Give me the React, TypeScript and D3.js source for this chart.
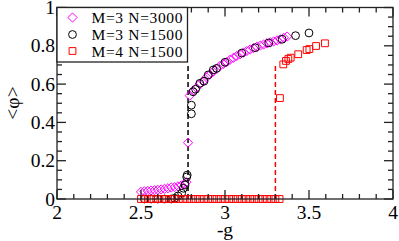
import { useEffect, useRef } from 'react'
import { select, scaleLinear, range, symbol, symbolSquare } from 'd3'

// M=3 N=3000 (magenta diamonds)
const gM3N3000 = [
  2.5, 2.52, 2.54, 2.56, 2.58, 2.6, 2.62, 2.64, 2.66, 2.68, 2.7, 2.72, 2.74, 2.76, 2.77, 2.78,
  2.79, 2.81, 2.83, 2.85, 2.87, 2.89, 2.91, 2.93, 2.95, 2.97, 2.99, 3.01, 3.03, 3.05, 3.07,
  3.09, 3.11, 3.13, 3.15, 3.17, 3.19, 3.21, 3.23, 3.25, 3.27, 3.29, 3.31, 3.33, 3.35, 3.37,
]
const phiM3N3000 = [
  0.037, 0.04, 0.042, 0.044, 0.046, 0.048, 0.05, 0.053, 0.056, 0.06, 0.062, 0.066, 0.071, 0.08,
  0.088, 0.294, 0.54, 0.565, 0.58, 0.6, 0.615, 0.635, 0.65, 0.665, 0.68, 0.695, 0.705, 0.715,
  0.727, 0.737, 0.747, 0.756, 0.765, 0.773, 0.781, 0.788, 0.795, 0.801, 0.807, 0.813, 0.818,
  0.823, 0.828, 0.834, 0.842, 0.848,
]

// M=3 N=1500 (black circles)
const gM3N1500 = [
  2.52, 2.56, 2.6, 2.64, 2.68, 2.7, 2.72, 2.742, 2.752, 2.762, 2.772, 2.775, 2.8, 2.8, 2.81,
  2.825, 2.85, 2.875, 2.9, 2.93, 2.95, 3.0, 3.1, 3.18, 3.26, 3.34, 3.42, 3.5,
]
const phiM3N1500 = [
  0.0, 0.0, 0.0, 0.0, 0.0, 0.004, 0.016, 0.03, 0.056, 0.073, 0.115, 0.125, 0.445, 0.49, 0.56,
  0.573, 0.604, 0.615, 0.648, 0.674, 0.682, 0.714, 0.762, 0.79, 0.815, 0.834, 0.853, 0.867,
]

// M=4 N=1500 (red squares)
const gM4N1500 = [
  2.5, 2.525, 2.55, 2.575, 2.6, 2.625, 2.65, 2.675, 2.7, 2.725, 2.75, 2.775, 2.8, 2.825, 2.85,
  2.875, 2.9, 2.925, 2.95, 2.975, 3.0, 3.025, 3.05, 3.075, 3.1, 3.125, 3.15, 3.175, 3.2, 3.225,
  3.25, 3.275, 3.3, 3.325, 3.327, 3.347, 3.363, 3.377, 3.391, 3.436, 3.486, 3.502, 3.542, 3.595,
]
const phiM4N1500 = [
  0, 0, 0, 0, 0, 0, 0, 0, 0, 0, 0, 0, 0, 0, 0, 0, 0, 0, 0, 0, 0, 0, 0, 0, 0, 0, 0, 0, 0, 0, 0, 0,
  0, 0, 0.527, 0.703, 0.721, 0.731, 0.738, 0.756, 0.778, 0.783, 0.799, 0.813,
]

// vertical dashed transition lines: [g, top phi]
const transitions = [
  { g: 2.78, top: 0.71, color: '#000000' },
  { g: 3.3, top: 0.7, color: '#ff0000' },
]

const legendLabels = ['M=3 N=3000', 'M=3 N=1500', 'M=4 N=1500']
const xTicks = [2, 2.5, 3, 3.5, 4]
const yTicks = [0, 0.2, 0.4, 0.6, 0.8, 1]

const W = 399
const H = 241
const FONT = '"Liberation Serif", "Times New Roman", serif'

// diamond as a square rotated by 45 degrees
const diamondPath = (r: number) => `M0,${-r}L${r},0L0,${r}L${-r},0Z`

const App = () => {
  const svgRef = useRef(null)

  useEffect(() => {
    const svg = select(svgRef.current)
    svg.selectAll('*').remove()

    const x = scaleLinear().domain([2, 4]).range([57, 393])
    const y = scaleLinear().domain([0, 1]).range([199, 7.5])
    const [x0, x1] = x.range()
    const [y0, y1] = y.range()

    // dashed lines
    transitions.forEach((t) => {
      svg
        .append('line')
        .attr('x1', x(t.g))
        .attr('x2', x(t.g))
        .attr('y1', y(0))
        .attr('y2', y(t.top))
        .attr('stroke', t.color)
        .attr('stroke-width', 1.5)
        .attr('stroke-dasharray', '5,3')
    })

    const square = symbol().type(symbolSquare).size(46)
    const diamond = diamondPath(4.6)

    svg
      .append('g')
      .selectAll('path')
      .data(gM3N3000.map((g, i) => [g, phiM3N3000[i]]))
      .join('path')
      .attr('d', diamond)
      .attr('transform', (d) => `translate(${x(d[0])},${y(d[1])})`)
      .attr('fill', 'none')
      .attr('stroke', '#ff00ff')
      .attr('stroke-width', 1)

    svg
      .append('g')
      .selectAll('circle')
      .data(gM3N1500.map((g, i) => [g, phiM3N1500[i]]))
      .join('circle')
      .attr('cx', (d) => x(d[0]))
      .attr('cy', (d) => y(d[1]))
      .attr('r', 3.9)
      .attr('fill', 'none')
      .attr('stroke', '#000000')
      .attr('stroke-width', 1)

    svg
      .append('g')
      .selectAll('path')
      .data(gM4N1500.map((g, i) => [g, phiM4N1500[i]]))
      .join('path')
      .attr('d', square)
      .attr('transform', (d) => `translate(${x(d[0])},${y(d[1])})`)
      .attr('fill', 'none')
      .attr('stroke', '#ff0000')
      .attr('stroke-width', 1)

    // frame + ticks on all four sides, pointing inward
    const axisG = svg.append('g').attr('stroke', '#222').attr('stroke-width', 1.3)
    axisG
      .append('rect')
      .attr('x', x0)
      .attr('y', y1)
      .attr('width', x1 - x0)
      .attr('height', y0 - y1)
      .attr('fill', 'none')

    const xMinor = range(2, 4.001, 0.1)
    const yMinor = range(0, 1.001, 0.05)
    xMinor.forEach((v) => {
      const major = xTicks.some((t) => Math.abs(t - v) < 1e-6)
      const len = major ? 9 : 5
      axisG.append('line').attr('x1', x(v)).attr('x2', x(v)).attr('y1', y0).attr('y2', y0 - len)
      axisG.append('line').attr('x1', x(v)).attr('x2', x(v)).attr('y1', y1).attr('y2', y1 + len)
    })
    yMinor.forEach((v) => {
      const major = yTicks.some((t) => Math.abs(t - v) < 1e-6)
      const len = major ? 9 : 5
      axisG.append('line').attr('x1', x0).attr('x2', x0 + len).attr('y1', y(v)).attr('y2', y(v))
      axisG.append('line').attr('x1', x1).attr('x2', x1 - len).attr('y1', y(v)).attr('y2', y(v))
    })

    // tick labels
    svg
      .append('g')
      .selectAll('text')
      .data(xTicks)
      .join('text')
      .attr('x', (d) => x(d))
      .attr('y', 219)
      .attr('text-anchor', 'middle')
      .attr('font-family', FONT)
      .attr('font-size', 19.5)
      .text((d) => String(d))

    svg
      .append('g')
      .selectAll('text')
      .data(yTicks)
      .join('text')
      .attr('x', x0 - 2)
      .attr('y', (d) => y(d) + 6.5)
      .attr('text-anchor', 'end')
      .attr('font-family', FONT)
      .attr('font-size', 19.5)
      .text((d) => String(d))

    // axis titles
    svg
      .append('text')
      .attr('x', 225)
      .attr('y', 236)
      .attr('text-anchor', 'middle')
      .attr('font-family', FONT)
      .attr('font-size', 19.5)
      .text('-g')

    svg
      .append('text')
      .attr('transform', 'translate(19,103) rotate(-90)')
      .attr('text-anchor', 'middle')
      .attr('font-family', FONT)
      .attr('font-size', 19.5)
      .text('<φ>')

    // legend
    const lg = svg.append('g')
    lg.append('rect')
      .attr('x', x0)
      .attr('y', y1)
      .attr('width', 130.5)
      .attr('height', 54.5)
      .attr('fill', '#ffffff')
      .attr('stroke', '#222')
      .attr('stroke-width', 1.3)

    const rowY = [17.5, 34.5, 51]
    lg.append('path')
      .attr('d', diamond)
      .attr('transform', `translate(72.5,${rowY[0]})`)
      .attr('fill', 'none')
      .attr('stroke', '#ff00ff')
    lg.append('circle')
      .attr('cx', 72.5)
      .attr('cy', rowY[1])
      .attr('r', 3.9)
      .attr('fill', 'none')
      .attr('stroke', '#000000')
    lg.append('path')
      .attr('d', square)
      .attr('transform', `translate(72.5,${rowY[2]})`)
      .attr('fill', 'none')
      .attr('stroke', '#ff0000')

    lg.selectAll('text.lab')
      .data(legendLabels)
      .join('text')
      .attr('class', 'lab')
      .attr('x', 91.5)
      .attr('y', (_, i) => rowY[i] + 5.5)
      .attr('font-family', FONT)
      .attr('font-size', 15.5)
      .attr('textLength', 91)
      .text((d) => d)
  }, [])

  return (
    <svg
      ref={svgRef}
      width={W}
      height={H}
      style={{ position: 'absolute', left: 0, top: 0, background: '#fff' }}
    />
  )
}

export default App
